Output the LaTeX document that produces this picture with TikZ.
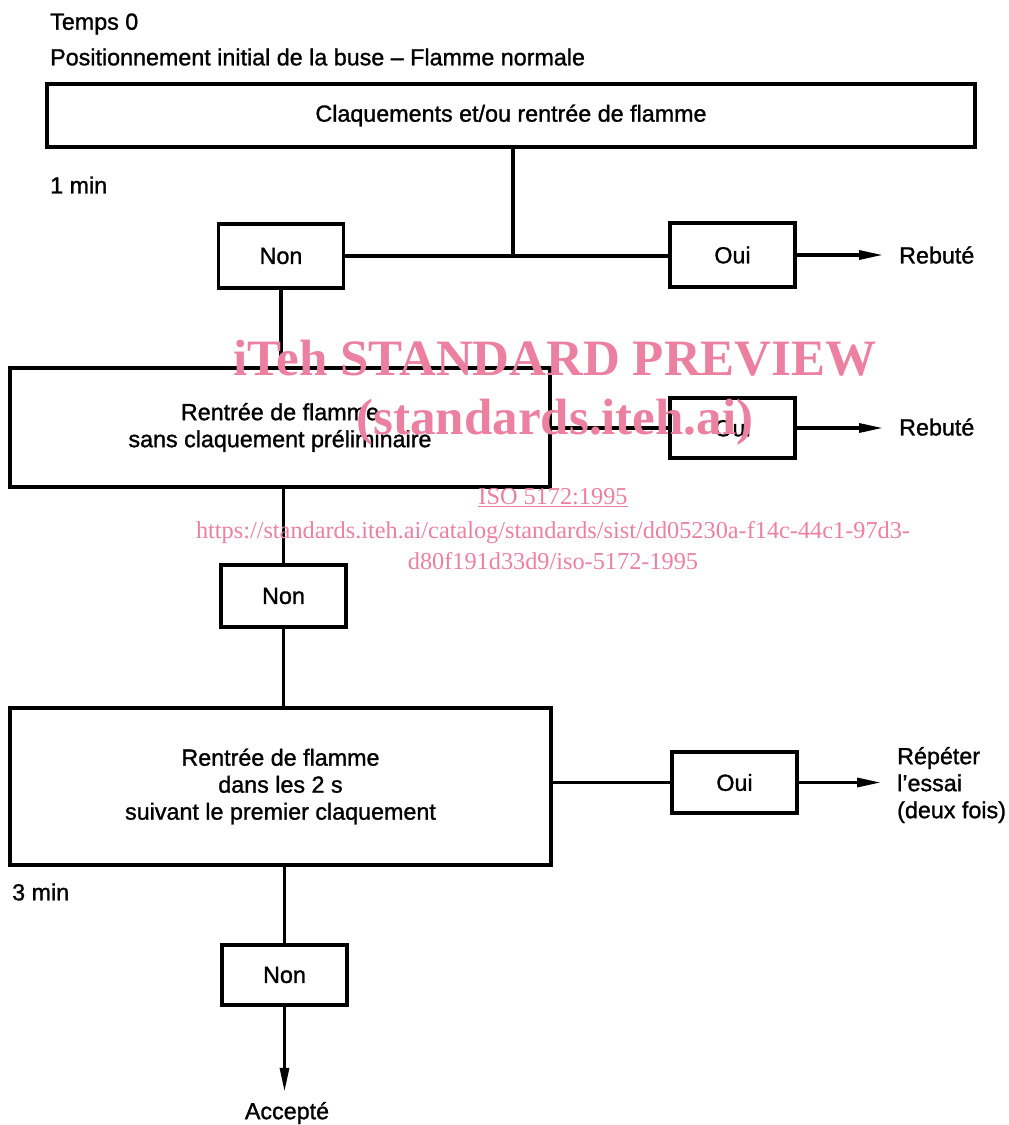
\documentclass[tikz,border=0pt]{standalone}
\usepackage{fontspec}
\setmainfont{Liberation Sans}[FakeBold=1.2]
\newfontfamily\wmfont{Liberation Serif}
\usetikzlibrary{arrows.meta}
\definecolor{wmpink}{RGB}{236,128,160}
\begin{document}
\begin{tikzpicture}[x=1pt,y=-1pt,
  every node/.style={font=\fontsize{23.3}{27}\selectfont, inner sep=0pt},
  boxnode/.style={draw, line width=3.2pt, align=center},
  small/.style={boxnode, minimum width=125pt, minimum height=62pt},
  wire/.style={line width=3.2pt},
  arr/.style={wire, -{Triangle[length=24pt,width=9pt]}, shorten >=16pt},
  lab/.style={anchor=west, align=left},
  wm/.style={text=wmpink, font=\wmfont\fontsize{24.3}{31}\selectfont}]
\useasboundingbox (0,0) rectangle (1009,1125);
\node[lab] (t0) at (50,24) {Temps 0};
\node[lab] (pos) at (50,57) {Positionnement initial de la buse -- Flamme normale};
\node[boxnode, minimum width=928pt, minimum height=63pt] (top) at (511,115.5) {Claquements et/ou rentrée de flamme};
\node[lab] (m1) at (50,185) {1 min};
\node[small, minimum height=64pt] (non1) at (281,256) {Non};
\node[small, minimum height=64pt] (oui1) at (732.5,255) {Oui};
\node[lab] (reb1) at (899,255) {Rebuté};
\coordinate (j1) at (513,256);
\node[boxnode, minimum width=540pt, minimum height=119pt] (box2) at (280,427.5) {Rentrée de flamme\\sans claquement préliminaire};
\node[small, minimum height=60pt] (oui2) at (732.5,428) {Oui};
\node[lab] (reb2) at (899,427) {Rebuté};
\node[small] (non2) at (283.5,596) {Non};
\node[boxnode, minimum width=541pt, minimum height=157pt] (box3) at (280.5,786.5) {Rentrée de flamme\\dans les 2 s\\suivant le premier claquement};
\node[small, minimum height=61pt] (oui3) at (734.5,782.5) {Oui};
\node[lab] (rep) at (897,785) {Répéter\\l'essai\\(deux fois)};
\node[lab] (m3) at (12,892) {3 min};
\node[small, minimum height=60pt] (non3) at (284.5,975) {Non};
\node (acc) at (287,1113) {Accepté};
% connectors
\draw[wire] (top.south -| j1) -- (j1);
\draw[wire] (non1.east) -- (non1.east -| oui1.west);
\draw[arr] (oui1.east) -- (reb1.west);
\draw[wire] (non1.south) -- (non1.south |- box2.north);
\draw[wire] (oui2.west -| box2.east) -- (oui2.west);
\draw[arr] (oui2.east) -- (oui2.east -| reb2.west);
\draw[wire] (non2.north |- box2.south) -- (non2.north);
\draw[wire] (non2.south) -- (non2.south |- box3.north);
\draw[wire] (oui3.west -| box3.east) -- (oui3.west);
\draw[arr] (oui3.east) -- (oui3.east -| rep.west);
\draw[wire] (non3.north |- box3.south) -- (non3.north);
\draw[arr, shorten >=10pt] (non3.south) -- (non3.south |- acc.north);
% watermark
\node[wm, font=\wmfont\bfseries\fontsize{51}{56}\selectfont] (wm1) at (555,358) {iTeh STANDARD PREVIEW};
\node[wm, font=\wmfont\bfseries\fontsize{51}{56}\selectfont] (wm2) at (555,422) {(standards.iteh.ai)};
\node[wm] (wm3) at (553,498) {\underline{ISO 5172:1995}};
\node[wm, align=center] (wm4) at (553,546) {https://standards.iteh.ai/catalog/standards/sist/dd05230a-f14c-44c1-97d3-\\d80f191d33d9/iso-5172-1995};
\end{tikzpicture}
\end{document}
